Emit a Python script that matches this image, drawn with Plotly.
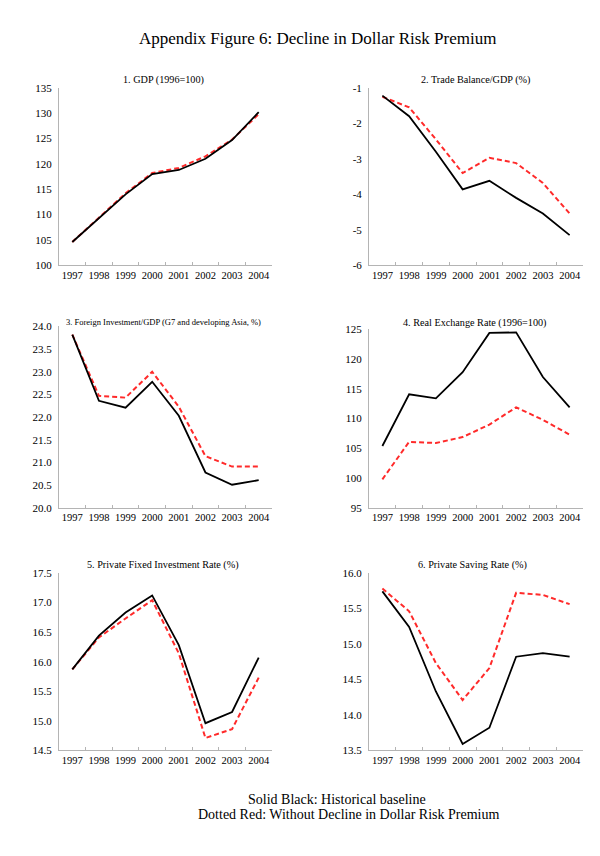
import plotly.graph_objects as go

years = ["1997", "1998", "1999", "2000", "2001", "2002", "2003", "2004"]

gdp_base = [104.6, 109.3, 114.0, 118.0, 118.8, 121.0, 124.7, 130.2]
gdp_alt = [104.6, 109.5, 114.2, 118.2, 119.2, 121.5, 124.8, 129.8]

trade_base = [-1.22, -1.80, -2.80, -3.86, -3.62, -4.10, -4.54, -5.15]
trade_alt = [-1.25, -1.55, -2.45, -3.40, -2.97, -3.12, -3.68, -4.54]

fi_base = [23.82, 22.36, 22.21, 22.78, 22.03, 20.78, 20.51, 20.61]
fi_alt = [23.82, 22.47, 22.43, 23.00, 22.23, 21.14, 20.91, 20.91]

rer_base = [105.4, 114.1, 113.4, 117.8, 124.4, 124.5, 117.0, 111.9]
rer_alt = [99.8, 106.1, 105.9, 106.9, 109.0, 111.9, 109.8, 107.3]

pfi_base = [15.87, 16.44, 16.83, 17.12, 16.28, 14.96, 15.15, 16.07]
pfi_alt = [15.87, 16.41, 16.73, 17.04, 16.14, 14.71, 14.86, 15.73]

psr_base = [15.74, 15.24, 14.33, 13.59, 13.82, 14.82, 14.87, 14.82]
psr_alt = [15.78, 15.46, 14.73, 14.21, 14.66, 15.72, 15.69, 15.56]

titles = [
    "1. GDP (1996=100)",
    "2. Trade Balance/GDP (%)",
    "3. Foreign Investment/GDP (G7 and developing Asia, %)",
    "4. Real Exchange Rate (1996=100)",
    "5. Private Fixed Investment Rate (%)",
    "6. Private Saving Rate (%)",
]

ytick_vals = [
    [100, 105, 110, 115, 120, 125, 130, 135],
    [-6, -5, -4, -3, -2, -1],
    [20.0, 20.5, 21.0, 21.5, 22.0, 22.5, 23.0, 23.5, 24.0],
    [95, 100, 105, 110, 115, 120, 125],
    [14.5, 15.0, 15.5, 16.0, 16.5, 17.0, 17.5],
    [13.5, 14.0, 14.5, 15.0, 15.5, 16.0],
]
ytick_text = [
    ["100", "105", "110", "115", "120", "125", "130", "135"],
    ["-6", "-5", "-4", "-3", "-2", "-1"],
    ["20.0", "20.5", "21.0", "21.5", "22.0", "22.5", "23.0", "23.5", "24.0"],
    ["95", "100", "105", "110", "115", "120", "125"],
    ["14.5", "15.0", "15.5", "16.0", "16.5", "17.0", "17.5"],
    ["13.5", "14.0", "14.5", "15.0", "15.5", "16.0"],
]

series = [
    (gdp_base, gdp_alt),
    (trade_base, trade_alt),
    (fi_base, fi_alt),
    (rer_base, rer_alt),
    (pfi_base, pfi_alt),
    (psr_base, psr_alt),
]

W, H = 600, 856


def px(x):
    return x / W


def py(y):
    return 1 - y / H


# pixel boxes in window coords: (left, right, top, bottom)
boxes = [
    (59, 272, 83, 263),
    (369, 583, 83, 263),
    (59, 272, 325, 509),
    (369, 583, 328, 509),
    (59, 272, 575, 755),
    (369, 583, 575, 755),
]
title_pos = [(163, 75), (475, 75), (163, 320), (475, 321), (163, 567), (472, 567)]
title_size = [10.2, 10.2, 8.5, 10.2, 10.2, 10.2]

FONT = "Liberation Serif, Times New Roman, serif"
AXIS = "#b4b4b4"

fig = go.Figure()
layout = dict(
    width=W, height=H,
    margin=dict(l=0, r=0, t=0, b=0),
    paper_bgcolor="white", plot_bgcolor="white",
    showlegend=False,
    font=dict(family=FONT, color="black", size=11),
    annotations=[],
)

for i, ((base, alt), box) in enumerate(zip(series, boxes)):
    n = i + 1
    xa = "x" if n == 1 else f"x{n}"
    ya = "y" if n == 1 else f"y{n}"
    fig.add_trace(go.Scatter(x=years, y=alt, mode="lines", xaxis=xa, yaxis=ya,
                             line=dict(color="#ff2a2a", width=2, dash="5px,3px")))
    fig.add_trace(go.Scatter(x=years, y=base, mode="lines", xaxis=xa, yaxis=ya,
                             line=dict(color="black", width=1.8)))
    l, r, t, b = box
    vals = ytick_vals[i]
    layout[f"xaxis{'' if n == 1 else n}"] = dict(
        domain=[px(l), px(r)], anchor=ya, type="category",
        range=[-0.5, 7.5], tickson="boundaries", ticks="inside", ticklen=3,
        tickcolor=AXIS, showline=True, linecolor=AXIS, linewidth=1,
        showgrid=False, zeroline=False, tickangle=0,
        tickfont=dict(size=10.5, family=FONT), fixedrange=True,
    )
    layout[f"yaxis{'' if n == 1 else n}"] = dict(
        domain=[py(b), py(t)], anchor=xa,
        range=[min(vals), max(vals)], tickvals=vals, ticktext=ytick_text[i],
        ticks="", showline=True, linecolor=AXIS, linewidth=1,
        showgrid=False, zeroline=False, ticklabelstandoff=4,
        tickfont=dict(size=11, family=FONT), fixedrange=True,
    )
    tx, ty = title_pos[i]
    layout["annotations"].append(dict(
        text=titles[i], x=px(tx), y=py(ty),
        xref="paper", yref="paper", xanchor="center", yanchor="middle",
        showarrow=False, font=dict(size=title_size[i], family=FONT),
    ))

layout["annotations"].append(dict(
    text="Appendix Figure 6: Decline in Dollar Risk Premium",
    x=px(317), y=py(33), xref="paper", yref="paper",
    xanchor="center", yanchor="middle", showarrow=False,
    font=dict(size=17, family=FONT),
))
layout["annotations"].append(dict(
    text="Solid Black: Historical baseline",
    x=px(337), y=py(805), xref="paper", yref="paper",
    xanchor="center", yanchor="middle", showarrow=False,
    font=dict(size=14, family=FONT),
))
layout["annotations"].append(dict(
    text="Dotted Red: Without Decline in Dollar Risk Premium",
    x=px(348), y=py(820), xref="paper", yref="paper",
    xanchor="center", yanchor="middle", showarrow=False,
    font=dict(size=14, family=FONT),
))

fig.update_layout(**layout)
fig.write_html(
    "out.html",
    config={"displayModeBar": False},
    post_script="document.body.style.margin='0';document.body.style.overflow='hidden';",
)
